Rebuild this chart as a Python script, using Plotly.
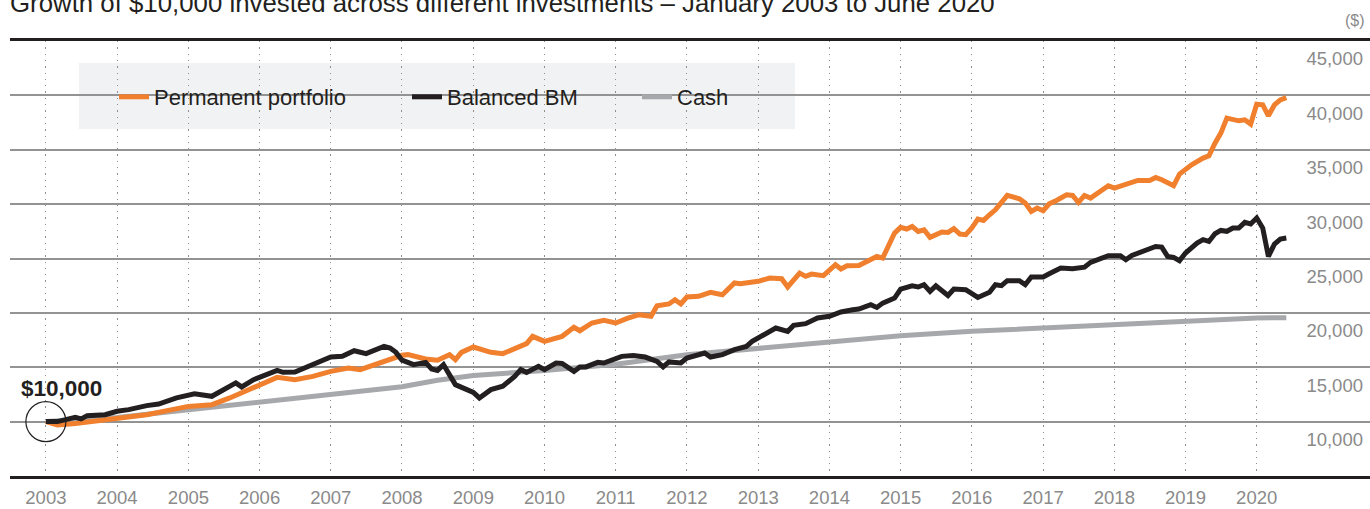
import plotly.graph_objects as go

# ---------------- data ----------------
years = list(range(2003, 2021))
y_ticks = [10000, 15000, 20000, 25000, 30000, 35000, 40000, 45000]

perm_dates = ["2003-01", "2003-03", "2003-06", "2003-09", "2004-01", "2004-06", "2005-01", "2005-05",
              "2005-08", "2005-10", "2006-01", "2006-04", "2006-07", "2006-10", "2007-01", "2007-04",
              "2007-06", "2007-09", "2007-11", "2008-01", "2008-02", "2008-05", "2008-07", "2008-09",
              "2008-10", "2008-11", "2009-01", "2009-04", "2009-06", "2009-08", "2009-10", "2009-11",
              "2010-01", "2010-04", "2010-06", "2010-07", "2010-09", "2010-11", "2011-01", "2011-03",
              "2011-05", "2011-07", "2011-08", "2011-10", "2011-11", "2011-12", "2012-01", "2012-03",
              "2012-05", "2012-07", "2012-09", "2012-10", "2013-01", "2013-03", "2013-05", "2013-06",
              "2013-08", "2013-09", "2013-10", "2013-12", "2014-02", "2014-03", "2014-04", "2014-06",
              "2014-08", "2014-09", "2014-10", "2014-11", "2014-12", "2015-01", "2015-02", "2015-03",
              "2015-04", "2015-05", "2015-06", "2015-08", "2015-09", "2015-10", "2015-11", "2015-12",
              "2016-01", "2016-02", "2016-03", "2016-04", "2016-05", "2016-07", "2016-09", "2016-10",
              "2016-11", "2016-12", "2017-01", "2017-02", "2017-03", "2017-05", "2017-06", "2017-07",
              "2017-08", "2017-09", "2017-11", "2017-12", "2018-01", "2018-04", "2018-05", "2018-07",
              "2018-08", "2018-09", "2018-11", "2018-12", "2019-02", "2019-04", "2019-05", "2019-06",
              "2019-07", "2019-08", "2019-10", "2019-11", "2019-12", "2020-01", "2020-02", "2020-03",
              "2020-04", "2020-05", "2020-06"]
perm_values = [10000, 9700, 9820, 10000, 10250, 10640, 11400, 11560,
               12180, 12640, 13300, 14070, 13860, 14160, 14620, 14930,
               14780, 15330, 15650, 16100, 16160, 15760, 15640, 16160,
               15700, 16370, 16860, 16370, 16250, 16770, 17170, 17840,
               17380, 17840, 18670, 18360, 19070, 19310, 19070, 19490,
               19830, 19680, 20660, 20820, 21210, 20820, 21460, 21520,
               21890, 21670, 22750, 22680, 22900, 23200, 23140, 22380,
               23660, 23360, 23570, 23420, 24430, 24030, 24330, 24350,
               24890, 25190, 25040, 26110, 27340, 27860, 27710, 27950,
               27490, 27640, 26940, 27430, 27400, 27740, 27250, 27190,
               27800, 28630, 28500, 29020, 29480, 30800, 30490, 30100,
               29330, 29640, 29390, 30030, 30250, 30860, 30800, 30150,
               30800, 30560, 31320, 31690, 31470, 31930, 32180, 32180,
               32450, 32240, 31690, 32760, 33620, 34230, 34450, 35610,
               36530, 37910, 37660, 37750, 37360, 39190, 39130, 38120,
               39130, 39590, 39800]

bal_dates = ["2003-01", "2003-03", "2003-06", "2003-07", "2003-08", "2003-11", "2004-01", "2004-03",
             "2004-06", "2004-08", "2004-11", "2005-02", "2005-05", "2005-07", "2005-09", "2005-10",
             "2005-12", "2006-04", "2006-05", "2006-07", "2006-10", "2007-01", "2007-03", "2007-05",
             "2007-07", "2007-10", "2007-11", "2007-12", "2008-01", "2008-03", "2008-05", "2008-06",
             "2008-07", "2008-08", "2008-10", "2008-12", "2009-01", "2009-02", "2009-04", "2009-06",
             "2009-08", "2009-09", "2009-10", "2009-12", "2010-01", "2010-03", "2010-04", "2010-06",
             "2010-07", "2010-08", "2010-10", "2010-11", "2011-02", "2011-04", "2011-06", "2011-08",
             "2011-09", "2011-10", "2011-12", "2012-01", "2012-04", "2012-05", "2012-07", "2012-09",
             "2012-11", "2012-12", "2013-01", "2013-02", "2013-04", "2013-06", "2013-07", "2013-09",
             "2013-11", "2014-01", "2014-03", "2014-05", "2014-06", "2014-08", "2014-09", "2014-10",
             "2014-12", "2015-01", "2015-03", "2015-04", "2015-05", "2015-06", "2015-07", "2015-09",
             "2015-10", "2015-12", "2016-02", "2016-04", "2016-05", "2016-06", "2016-07", "2016-09",
             "2016-10", "2016-11", "2017-01", "2017-02", "2017-04", "2017-06", "2017-08", "2017-09",
             "2017-11", "2017-12", "2018-02", "2018-03", "2018-04", "2018-05", "2018-07", "2018-08",
             "2018-09", "2018-10", "2018-11", "2018-12", "2019-01", "2019-02", "2019-03", "2019-04",
             "2019-05", "2019-06", "2019-07", "2019-08", "2019-09", "2019-10", "2019-11", "2019-12",
             "2020-01", "2020-02", "2020-03", "2020-04", "2020-05", "2020-06"]
bal_values = [10000, 10000, 10400, 10250, 10550, 10640, 10950, 11100,
              11470, 11620, 12180, 12550, 12330, 12940, 13560, 13190,
              13860, 14710, 14530, 14560, 15240, 15940, 16000, 16520,
              16250, 16920, 16770, 16370, 15650, 15240, 15450, 14840,
              14710, 15240, 13400, 12940, 12690, 12180, 12940, 13250,
              14160, 14780, 14530, 15080, 14780, 15390, 15350, 14620,
              15030, 15030, 15450, 15390, 16000, 16090, 15940, 15540,
              15030, 15490, 15390, 15850, 16310, 15940, 16160, 16620,
              16920, 17380, 17700, 18100, 18610, 18300, 18850, 19010,
              19530, 19680, 20080, 20290, 20350, 20750, 20500, 20900,
              21360, 22190, 22490, 22380, 22590, 21980, 22490, 21600,
              22190, 22130, 21420, 21890, 22590, 22500, 22960, 22960,
              22590, 23300, 23300, 23600, 24120, 24060, 24200, 24640,
              25100, 25260, 25260, 24890, 25280, 25500, 25870, 26110,
              26050, 25190, 25100, 24800, 25500, 26020, 26420, 26730,
              26570, 27280, 27580, 27500, 27800, 27800, 28320, 28170,
              28720, 27800, 25190, 26330, 26790, 26880]

cash_dates = ["2003-01", "2004-01", "2005-01", "2006-01", "2007-01", "2008-01", "2008-07", "2009-01",
              "2010-01", "2011-01", "2012-01", "2013-01", "2014-01", "2015-01", "2016-01", "2017-01",
              "2018-01", "2019-01", "2020-01", "2020-06"]
cash_values = [10000, 10380, 11100, 11800, 12450, 13200, 13800, 14250,
               14700, 15270, 16150, 16750, 17380, 17900, 18300, 18630,
               18980, 19280, 19530, 19560]

series_names = ["Permanent portfolio", "Balanced BM", "Cash"]

# ---------------- style ----------------
ORANGE = "#f07f2e"
BLACK = "#231f20"
GREY = "#a6a8ab"
FONT = "Liberation Sans"
W, H = 1370, 509
ML, MR, MT, MB = 10, 0, 41, 33
PW = W - ML - MR
PH = H - MT - MB


def px_x(p):
    return (p - ML) / PW


def px_y(p):
    return (H - MB - p) / PH


fig = go.Figure()
fig.add_trace(go.Scatter(x=cash_dates, y=cash_values, name=series_names[2], mode="lines",
                         line=dict(color=GREY, width=5), legend="legend3"))
fig.add_trace(go.Scatter(x=perm_dates, y=perm_values, name=series_names[0], mode="lines",
                         line=dict(color=ORANGE, width=5), legend="legend"))
fig.add_trace(go.Scatter(x=bal_dates, y=bal_values, name=series_names[1], mode="lines",
                         line=dict(color=BLACK, width=5), legend="legend2"))

leg_common = dict(bgcolor="rgba(0,0,0,0)", font=dict(family=FONT, size=22, color=BLACK),
                  yanchor="middle", xanchor="left", y=px_y(97), itemwidth=30)

fig.update_layout(
    width=W, height=H,
    margin=dict(l=ML, r=MR, t=MT, b=MB, autoexpand=False),
    paper_bgcolor="white", plot_bgcolor="white",
    showlegend=True,
    legend=dict(x=px_x(114), **leg_common),
    legend2=dict(x=px_x(407), **leg_common),
    legend3=dict(x=px_x(637), **leg_common),
    xaxis=dict(
        type="date",
        range=["2002-07-01", "2021-08-04"],
        tickvals=[f"{y}-01-01" for y in years],
        ticktext=[str(y) for y in years],
        showgrid=True, gridcolor="#8f8f8f", gridwidth=1.3, griddash="1.3px,5px",
        showline=True, linecolor=BLACK, linewidth=3, mirror=True,
        ticks="", ticklabelstandoff=3,
        tickfont=dict(family=FONT, size=18.5, color="#8a8a8a"),
        zeroline=False, fixedrange=True, automargin=False,
    ),
    yaxis=dict(
        range=[5000, 45000],
        side="right",
        tickvals=y_ticks,
        tickformat=",",
        ticklabelposition="inside",
        ticklabelshift=18,
        ticklabelstandoff=4,
        showgrid=True, gridcolor="#939393", gridwidth=2,
        ticks="", zeroline=False, showline=False,
        tickfont=dict(family=FONT, size=18.5, color="#8a8a8a"),
        fixedrange=True, automargin=False,
    ),
    shapes=[
        dict(type="rect", xref="paper", yref="paper", layer="between",
             x0=px_x(79), x1=px_x(795), y0=px_y(129), y1=px_y(63),
             fillcolor="#f1f2f4", line=dict(width=0)),
        dict(type="circle", xref="x", yref="y", xsizemode="pixel", ysizemode="pixel",
             xanchor=perm_dates[0] + "-01", yanchor=perm_values[0],
             x0=-20, x1=20, y0=-20, y1=20, line=dict(color=BLACK, width=1.2), layer="above"),
    ],
    annotations=[
        dict(text="Growth of $10,000 invested across different investments – January 2003 to June 2020",
             xref="paper", yref="paper", x=px_x(8), y=1, xanchor="left", yanchor="middle",
             yshift=38, showarrow=False, font=dict(family=FONT, size=25.8, color=BLACK)),
        dict(text="($)", xref="paper", yref="paper", x=px_x(1367), y=1, xanchor="right",
             yanchor="middle", yshift=21, showarrow=False,
             font=dict(family=FONT, size=16, color="#8a8a8a")),
        dict(text="<b>$10,000</b>", xref="x", yref="y", x=perm_dates[0] + "-01", y=perm_values[0],
             xanchor="center", yanchor="middle", xshift=16, yshift=33, showarrow=False,
             font=dict(family=FONT, size=22.5, color=BLACK)),
    ],
)

fig.write_html("out.html", config={"displayModeBar": False},
               post_script="document.body.style.margin='0px';document.body.style.overflow='hidden';")
